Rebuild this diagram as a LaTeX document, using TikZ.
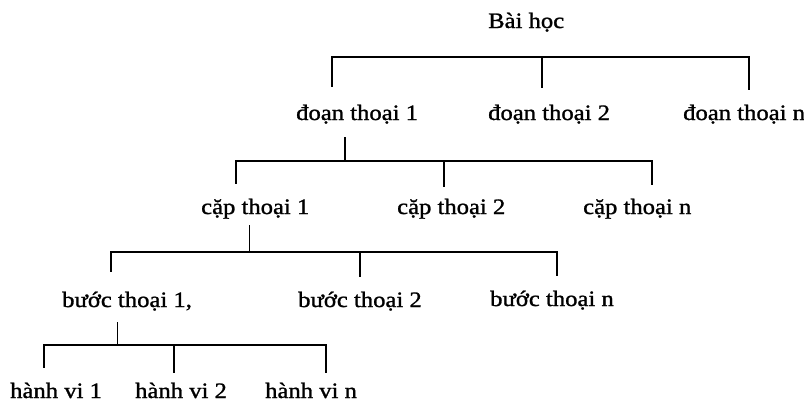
\documentclass[tikz,border=0pt]{standalone}
\usepackage{fontspec}
\setmainfont{Liberation Serif}[FakeStretch=1.12,FakeBold=1.2]
\usetikzlibrary{calc}
\begin{document}
\begin{tikzpicture}[x=1pt,y=-1pt,
  lbl/.style={inner sep=0pt, anchor=base west, text height=15pt, text depth=5pt,
              font=\fontsize{22}{26}\selectfont},
  bar/.style={line width=2.6pt, line cap=rect},
  stem/.style={line width=2.6pt},
  thinstem/.style={line width=1pt}]
\useasboundingbox (0,0) rectangle (804,405);

% labels
\node[lbl] (root) at (488,28) {Bài học};
\node[lbl] (d1) at (296,120) {đoạn thoại 1};
\node[lbl] (d2) at (488,120) {đoạn thoại 2};
\node[lbl] (dn) at (683,120) {đoạn thoại n};
\node[lbl] (c1) at (201,214) {cặp thoại 1};
\node[lbl] (c2) at (397,214) {cặp thoại 2};
\node[lbl] (cn) at (583,214) {cặp thoại n};
\node[lbl] (b1) at (62,307) {bước thoại 1,};
\node[lbl] (b2) at (298,307) {bước thoại 2};
\node[lbl] (bn) at (490,306) {bước thoại n};
\node[lbl] (h1) at (10,398) {hành vi 1};
\node[lbl] (h2) at (135,398) {hành vi 2};
\node[lbl] (hn) at (265,398) {hành vi n};

% level 1
\coordinate (j1l) at (332,57);
\coordinate (j1m) at (542,57);
\coordinate (j1r) at (749,57);
\draw[bar] (j1l) -- (j1r);
\draw[stem] (j1l) -- ($(j1l |- d1.north)+(0,-18)$);
\draw[stem] (j1m) -- ($(j1m |- d2.north)+(0,-17)$);
\draw[stem] (j1r) -- ($(j1r |- dn.north)+(0,-15)$);

% level 2
\coordinate (j2p) at (345,161);
\coordinate (j2l) at (236,161);
\coordinate (j2m) at (444,161);
\coordinate (j2r) at (652,161);
\draw[stem] ($(j2p |- d1.south)+(0,12)$) -- (j2p);
\draw[bar] (j2l) -- (j2r);
\draw[stem] (j2l) -- ($(j2l |- c1.north)+(0,-15)$);
\draw[stem] (j2m) -- ($(j2m |- c2.north)+(0,-12)$);
\draw[stem] (j2r) -- ($(j2r |- cn.north)+(0,-14)$);

% level 3
\coordinate (j3p) at (249,252);
\coordinate (j3l) at (111,252);
\coordinate (j3m) at (360,252);
\coordinate (j3r) at (557,252);
\draw[thinstem] ($(j3p |- c1.south)+(0,6)$) -- (j3p);
\draw[bar] (j3l) -- (j3r);
\draw[stem] (j3l) -- ($(j3l |- b1.north)+(0,-20)$);
\draw[stem] (j3m) -- ($(j3m |- b2.north)+(0,-15)$);
\draw[stem] (j3r) -- ($(j3r |- bn.north)+(0,-15)$);

% level 4
\coordinate (j4p) at (117,345);
\coordinate (j4l) at (44,345);
\coordinate (j4m) at (174,345);
\coordinate (j4r) at (326,345);
\draw[thinstem] ($(j4p |- b1.south)+(0,10)$) -- (j4p);
\draw[bar] (j4l) -- (j4r);
\draw[stem] (j4l) -- ($(j4l |- h1.north)+(0,-15)$);
\draw[stem] (j4m) -- ($(j4m |- h2.north)+(0,-10)$);
\draw[stem] (j4r) -- ($(j4r |- hn.north)+(0,-10)$);
\end{tikzpicture}
\end{document}
